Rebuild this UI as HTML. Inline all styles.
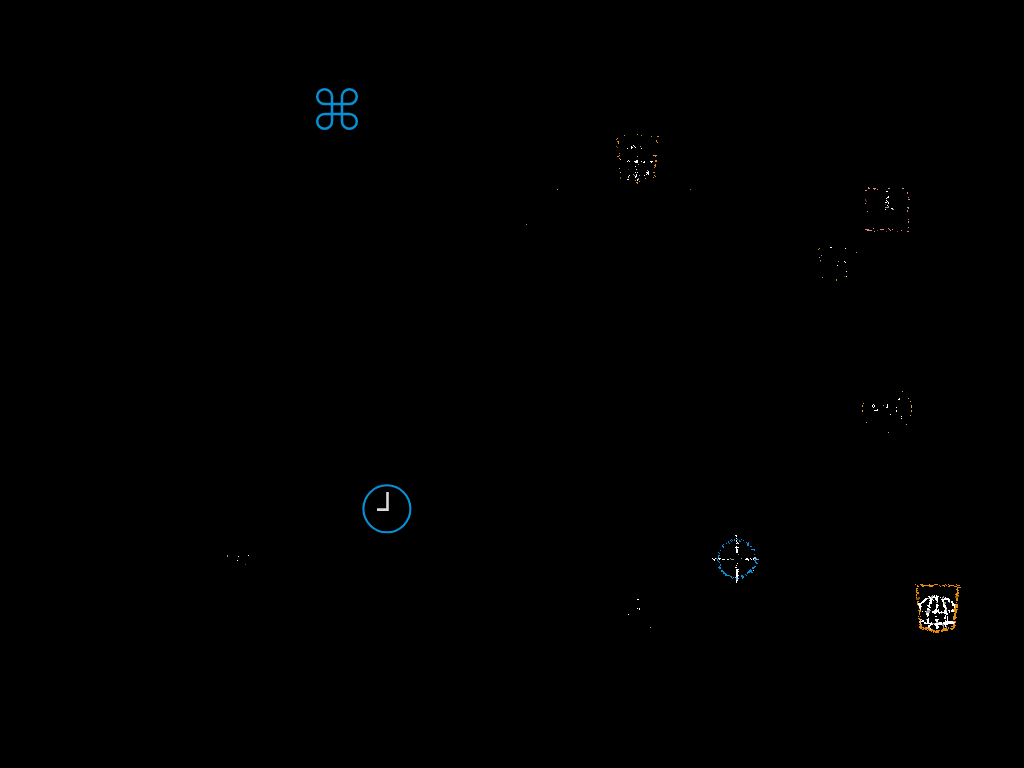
<!DOCTYPE html>
<html><head><meta charset="utf-8"><style>
html,body{margin:0;padding:0;background:#000;width:1024px;height:768px;overflow:hidden}
svg{position:absolute;left:0;top:0}
</style></head><body>
<svg width="1024" height="768" viewBox="0 0 1024 768" shape-rendering="crispEdges">
<g shape-rendering="geometricPrecision">
<path d="M332 96.6V121.4M342 96.6V121.4M324.6 104H349.4M324.6 114H349.4M332 96.6A7.4 7.4 0 1 0 324.6 104M342 96.6A7.4 7.4 0 1 1 349.4 104M349.4 114A7.4 7.4 0 1 1 342 121.4M324.6 114A7.4 7.4 0 1 0 332 121.4" fill="none" stroke="#0890d6" stroke-width="2.5"/>
<circle cx="386.9" cy="508.8" r="23.5" fill="none" stroke="#0890d6" stroke-width="2.1"/>
<path d="M386.2 492H388.8V511H377V508.2H386.2Z" fill="#fff" fill-opacity="0.85"/>

</g>
<path fill="#e38b0e" d="M624 135h1v1h-1zM637 134h1v1h-1zM641 135h1v1h-1zM617 138h1v1h-1zM616 139h1v1h-1zM617 141h1v1h-1zM618 141h1v1h-1zM618 142h1v1h-1zM618 143h1v1h-1zM619 153h1v1h-1zM619 155h1v1h-1zM617 156h1v1h-1zM618 156h1v1h-1zM619 158h1v1h-1zM619 168h1v1h-1zM636 182h1v1h-1zM637 182h1v1h-1zM637 183h1v1h-1zM635 180h1v1h-1zM639 181h1v1h-1zM651 136h1v1h-1zM657 136h1v1h-1zM658 136h1v1h-1zM656 140h1v1h-1zM656 141h1v1h-1zM657 142h1v1h-1zM654 155h1v1h-1zM655 155h1v1h-1zM656 155h1v1h-1zM655 156h1v1h-1zM656 160h1v1h-1zM656 161h1v1h-1zM655 160h1v1h-1zM655 161h1v1h-1zM655 164h1v1h-1zM654 165h1v1h-1zM655 165h1v1h-1zM655 166h1v1h-1zM654 167h1v1h-1zM653 172h1v1h-1zM654 172h1v1h-1zM654 175h1v1h-1zM655 176h1v1h-1zM653 177h1v1h-1zM645 178h1v1h-1zM819 248h1v1h-1zM818 249h1v1h-1zM820 260h1v1h-1zM856 252h1v1h-1zM836 279h1v1h-1zM836 280h1v1h-1zM822 277h1v1h-1zM557 189h1v1h-1zM915 584h1v1h-1zM917 585h1v1h-1zM917 586h2v1h-2zM920 584h3v1h-3zM921 585h3v1h-3zM922 586h2v1h-2zM924 585h3v1h-3zM929 584h1v1h-1zM929 585h3v1h-3zM929 586h3v1h-3zM932 585h2v1h-2zM934 584h2v1h-2zM936 584h1v1h-1zM939 585h1v1h-1zM940 586h1v1h-1zM942 585h3v1h-3zM945 584h1v1h-1zM944 586h1v1h-1zM948 584h1v1h-1zM949 585h3v1h-3zM948 586h2v1h-2zM952 585h2v1h-2zM954 586h1v1h-1zM956 584h1v1h-1zM957 585h3v1h-3zM956 586h1v1h-1zM916 589h1v1h-1zM917 590h1v1h-1zM916 591h1v1h-1zM957 587h2v1h-2zM957 588h1v1h-1zM956 589h2v1h-2zM957 590h2v1h-2zM957 591h1v1h-1zM918 592h1v1h-1zM917 593h2v1h-2zM916 594h1v1h-1zM916 595h1v1h-1zM916 597h1v1h-1zM918 598h1v1h-1zM917 601h2v1h-2zM917 602h1v1h-1zM917 603h1v1h-1zM917 604h2v1h-2zM918 605h1v1h-1zM957 592h2v1h-2zM956 593h3v1h-3zM955 594h3v1h-3zM956 595h3v1h-3zM956 598h2v1h-2zM956 599h2v1h-2zM956 600h2v1h-2zM956 602h1v1h-1zM955 604h3v1h-3zM955 605h3v1h-3zM955 606h3v1h-3zM955 607h3v1h-3zM919 608h1v1h-1zM918 610h3v1h-3zM919 611h2v1h-2zM919 612h1v1h-1zM919 613h1v1h-1zM919 614h1v1h-1zM918 616h1v1h-1zM920 616h1v1h-1zM918 618h2v1h-2zM919 619h1v1h-1zM954 608h2v1h-2zM953 609h5v1h-5zM954 610h3v1h-3zM954 611h3v1h-3zM955 612h2v1h-2zM954 613h2v1h-2zM954 614h2v1h-2zM954 615h2v1h-2zM953 616h3v1h-3zM953 617h4v1h-4zM953 618h3v1h-3zM953 619h2v1h-2zM954 621h2v1h-2zM954 622h2v1h-2zM954 623h1v1h-1zM919 624h2v1h-2zM920 625h2v1h-2zM919 626h3v1h-3zM919 627h5v1h-5zM925 627h3v1h-3zM920 628h2v1h-2zM923 628h7v1h-7zM922 629h2v1h-2zM925 629h2v1h-2zM928 629h2v1h-2zM927 630h1v1h-1zM929 630h1v1h-1zM943 628h3v1h-3zM932 629h1v1h-1zM942 629h4v1h-4zM930 630h5v1h-5zM936 630h4v1h-4zM941 630h5v1h-5zM931 631h1v1h-1zM933 631h6v1h-6zM941 631h2v1h-2zM933 632h1v1h-1zM935 632h4v1h-4zM953 624h2v1h-2zM953 625h3v1h-3zM951 626h4v1h-4zM953 627h2v1h-2zM948 627h1v1h-1zM950 628h4v1h-4zM948 628h1v1h-1zM946 628h1v1h-1zM951 629h2v1h-2zM946 629h2v1h-2zM946 630h2v1h-2zM925 585h4v1h-4zM931 586h2v1h-2zM937 584h1v1h-1zM946 585h1v1h-1zM955 586h1v1h-1zM959 587h2v1h-2zM916 590h1v1h-1zM916 592h2v1h-2zM916 588h2v1h-2z"/>
<path fill="#8a5608" d="M616 146h1v1h-1zM617 147h1v1h-1zM620 177h1v1h-1zM620 178h1v1h-1zM916 596h1v1h-1zM918 597h2v1h-2zM916 598h4v1h-4zM916 599h3v1h-3zM955 596h4v1h-4zM955 597h3v1h-3z"/>
<path fill="#f0c68a" d="M620 159h1v1h-1zM620 172h1v1h-1zM628 176h1v1h-1zM628 177h1v1h-1zM653 155h1v1h-1zM955 604h1v1h-1zM920 619h2v1h-2zM920 620h1v1h-1zM919 621h3v1h-3zM919 622h2v1h-2zM920 623h1v1h-1zM928 627h2v1h-2zM930 629h2v1h-2z"/>
<path fill="#ffffff" d="M627 148h1v1h-1zM631 146h1v1h-1zM631 147h1v1h-1zM631 148h1v1h-1zM632 147h1v1h-1zM633 145h1v1h-1zM634 146h1v1h-1zM635 147h1v1h-1zM641 148h1v1h-1zM627 161h1v1h-1zM628 160h1v1h-1zM629 161h1v1h-1zM634 161h1v1h-1zM635 161h1v1h-1zM636 160h1v1h-1zM637 160h1v1h-1zM636 161h1v1h-1zM637 161h1v1h-1zM636 162h1v1h-1zM635 162h1v1h-1zM637 162h1v1h-1zM641 161h1v1h-1zM643 162h1v1h-1zM644 161h1v1h-1zM644 162h1v1h-1zM650 161h1v1h-1zM651 161h1v1h-1zM652 161h1v1h-1zM651 162h1v1h-1zM635 166h1v1h-1zM636 169h1v1h-1zM635 172h1v1h-1zM637 172h1v1h-1zM629 175h1v1h-1zM636 174h1v1h-1zM636 175h1v1h-1zM636 176h1v1h-1zM635 176h1v1h-1zM635 177h1v1h-1zM627 179h1v1h-1zM628 179h1v1h-1zM637 180h1v1h-1zM637 179h1v1h-1zM644 175h1v1h-1zM648 171h1v1h-1zM646 172h1v1h-1zM647 172h1v1h-1zM648 172h1v1h-1zM647 173h1v1h-1zM648 173h1v1h-1zM646 174h1v1h-1zM648 174h1v1h-1zM886 191h1v1h-1zM887 191h1v1h-1zM886 198h1v1h-1zM887 197h1v1h-1zM888 196h1v1h-1zM886 200h1v1h-1zM885 202h1v1h-1zM886 202h1v1h-1zM887 201h1v1h-1zM888 202h1v1h-1zM888 203h1v1h-1zM887 205h1v1h-1zM885 209h1v1h-1zM891 208h1v1h-1zM892 208h1v1h-1zM888 197h1v1h-1zM845 248h1v1h-1zM830 247h1v1h-1zM831 247h1v1h-1zM837 265h1v1h-1zM844 261h1v1h-1zM845 262h1v1h-1zM846 271h1v1h-1zM846 276h1v1h-1zM872 405h1v1h-1zM873 404h1v1h-1zM874 405h1v1h-1zM872 406h1v1h-1zM874 406h1v1h-1zM873 407h1v1h-1zM874 410h1v1h-1zM875 410h1v1h-1zM876 410h1v1h-1zM877 409h1v1h-1zM877 410h1v1h-1zM887 404h1v1h-1zM887 405h1v1h-1zM887 406h1v1h-1zM886 407h1v1h-1zM887 407h1v1h-1zM899 398h1v1h-1zM898 399h1v1h-1zM899 399h1v1h-1zM896 407h1v1h-1zM896 410h1v1h-1zM896 411h1v1h-1zM890 414h1v1h-1zM901 416h1v1h-1zM901 418h1v1h-1zM238 556h1v1h-1zM237 560h1v1h-1zM248 555h1v1h-1zM637 599h1v1h-1zM638 599h1v1h-1zM637 608h1v1h-1zM639 608h1v1h-1zM639 609h1v1h-1zM628 614h1v1h-1zM735 535h1v1h-1zM736 535h1v1h-1zM736 536h1v1h-1zM736 538h1v1h-1zM736 540h1v1h-1zM736 541h1v1h-1zM737 542h1v1h-1zM736 543h1v1h-1zM738 543h1v1h-1zM735 547h1v1h-1zM736 547h1v1h-1zM737 547h1v1h-1zM738 547h1v1h-1zM736 546h1v1h-1zM736 548h1v1h-1zM736 549h1v1h-1zM737 549h1v1h-1zM736 550h1v1h-1zM737 550h1v1h-1zM736 551h1v1h-1zM737 551h1v1h-1zM736 552h1v1h-1zM737 552h1v1h-1zM712 558h1v1h-1zM713 559h1v1h-1zM714 559h1v1h-1zM715 558h1v1h-1zM714 560h1v1h-1zM718 558h1v1h-1zM719 558h1v1h-1zM720 558h1v1h-1zM719 559h1v1h-1zM722 559h1v1h-1zM723 559h1v1h-1zM724 559h1v1h-1zM727 559h1v1h-1zM728 559h1v1h-1zM745 559h1v1h-1zM746 558h1v1h-1zM747 558h1v1h-1zM748 559h1v1h-1zM746 559h1v1h-1zM747 559h1v1h-1zM748 560h1v1h-1zM750 558h1v1h-1zM751 559h1v1h-1zM753 558h1v1h-1zM754 557h1v1h-1zM753 559h1v1h-1zM737 563h1v1h-1zM736 565h1v1h-1zM735 567h1v1h-1zM736 567h1v1h-1zM738 569h1v1h-1zM736 570h1v1h-1zM737 570h1v1h-1zM736 571h1v1h-1zM737 572h1v1h-1zM736 573h1v1h-1zM737 573h1v1h-1zM736 574h1v1h-1zM737 575h1v1h-1zM736 576h1v1h-1zM737 576h1v1h-1zM735 577h1v1h-1zM738 578h1v1h-1zM736 581h1v1h-1zM736 582h1v1h-1zM736 569h1v1h-1zM737 569h1v1h-1zM738 569h1v1h-1zM736 570h1v1h-1zM737 570h1v1h-1zM736 571h1v1h-1zM737 571h1v1h-1zM736 572h1v1h-1zM737 572h1v1h-1zM736 573h1v1h-1zM737 573h1v1h-1zM736 574h1v1h-1zM737 574h1v1h-1zM736 575h1v1h-1zM737 575h1v1h-1zM736 576h1v1h-1zM737 576h1v1h-1zM738 571h1v1h-1zM738 575h1v1h-1zM736 580h1v1h-1zM736 581h1v1h-1zM736 582h1v1h-1zM737 580h1v1h-1zM928 596h2v1h-2zM929 597h1v1h-1zM925 598h3v1h-3zM924 599h3v1h-3zM923 600h3v1h-3zM929 600h1v1h-1zM922 601h3v1h-3zM921 602h3v1h-3zM929 602h1v1h-1zM918 603h4v1h-4zM929 603h1v1h-1zM918 604h3v1h-3zM929 604h1v1h-1zM919 605h2v1h-2zM927 605h3v1h-3zM919 606h3v1h-3zM928 606h2v1h-2zM919 607h2v1h-2zM929 607h1v1h-1zM934 595h1v1h-1zM936 595h1v1h-1zM933 596h2v1h-2zM936 596h3v1h-3zM930 597h1v1h-1zM932 597h6v1h-6zM940 597h1v1h-1zM945 597h1v1h-1zM930 598h2v1h-2zM935 598h3v1h-3zM944 598h2v1h-2zM930 599h3v1h-3zM935 599h3v1h-3zM941 599h5v1h-5zM930 600h2v1h-2zM933 600h1v1h-1zM936 600h2v1h-2zM942 600h2v1h-2zM930 601h2v1h-2zM937 601h1v1h-1zM942 601h2v1h-2zM930 602h2v1h-2zM943 602h1v1h-1zM930 603h2v1h-2zM943 603h1v1h-1zM936 604h2v1h-2zM943 604h2v1h-2zM936 605h3v1h-3zM943 605h3v1h-3zM936 606h2v1h-2zM943 606h3v1h-3zM930 607h1v1h-1zM936 607h2v1h-2zM944 607h2v1h-2zM946 598h3v1h-3zM946 599h4v1h-4zM948 600h2v1h-2zM948 601h2v1h-2zM951 601h2v1h-2zM951 602h2v1h-2zM952 603h2v1h-2zM952 604h3v1h-3zM952 605h3v1h-3zM954 606h1v1h-1zM954 607h1v1h-1zM920 608h1v1h-1zM920 609h1v1h-1zM927 608h2v1h-2zM927 609h3v1h-3zM922 611h1v1h-1zM925 611h1v1h-1zM926 613h3v1h-3zM926 614h3v1h-3zM927 615h2v1h-2zM927 616h1v1h-1zM928 618h1v1h-1zM927 619h2v1h-2zM927 620h2v1h-2zM922 620h2v1h-2zM921 621h3v1h-3zM927 621h2v1h-2zM924 622h2v1h-2zM927 622h2v1h-2zM924 623h6v1h-6zM936 608h1v1h-1zM945 608h1v1h-1zM935 609h2v1h-2zM938 609h1v1h-1zM945 609h1v1h-1zM934 610h5v1h-5zM944 610h2v1h-2zM932 611h7v1h-7zM941 611h1v1h-1zM944 611h2v1h-2zM932 612h5v1h-5zM938 612h8v1h-8zM934 613h2v1h-2zM939 613h1v1h-1zM944 613h2v1h-2zM945 615h1v1h-1zM935 616h2v1h-2zM945 616h1v1h-1zM944 617h2v1h-2zM944 618h2v1h-2zM935 619h4v1h-4zM935 620h3v1h-3zM945 620h1v1h-1zM936 621h2v1h-2zM945 621h1v1h-1zM931 622h1v1h-1zM939 622h3v1h-3zM943 622h3v1h-3zM930 623h2v1h-2zM935 623h7v1h-7zM943 623h3v1h-3zM946 608h1v1h-1zM946 611h1v1h-1zM946 612h1v1h-1zM946 613h2v1h-2zM946 614h2v1h-2zM947 616h1v1h-1zM947 617h1v1h-1zM947 618h1v1h-1zM947 619h1v1h-1zM947 620h1v1h-1zM952 609h1v1h-1zM948 610h2v1h-2zM951 610h3v1h-3zM949 611h1v1h-1zM951 611h3v1h-3zM949 612h1v1h-1zM946 621h7v1h-7zM946 622h9v1h-9zM946 623h8v1h-8zM928 625h2v1h-2zM928 626h2v1h-2zM930 624h3v1h-3zM934 624h8v1h-8zM944 624h2v1h-2zM930 625h1v1h-1zM935 625h3v1h-3zM945 625h1v1h-1zM936 626h3v1h-3zM945 626h1v1h-1zM936 627h3v1h-3zM930 628h1v1h-1zM936 628h2v1h-2zM946 624h2v1h-2z"/>
<path fill="#9a9a9a" d="M640 146h1v1h-1zM637 156h1v1h-1zM633 174h1v1h-1zM634 175h1v1h-1zM639 175h1v1h-1zM638 178h1v1h-1zM638 179h1v1h-1zM647 170h1v1h-1zM638 164h1v1h-1zM885 207h1v1h-1zM886 207h1v1h-1zM887 207h1v1h-1zM888 207h1v1h-1zM888 206h1v1h-1zM893 209h1v1h-1zM892 209h1v1h-1zM907 207h1v1h-1zM908 207h1v1h-1zM908 208h1v1h-1zM821 255h1v1h-1zM819 257h1v1h-1zM838 261h1v1h-1zM883 405h1v1h-1zM227 555h1v1h-1zM227 556h1v1h-1zM650 627h1v1h-1zM526 224h1v1h-1zM738 554h1v1h-1zM730 558h1v1h-1zM731 559h1v1h-1zM732 559h1v1h-1zM733 559h1v1h-1zM741 558h1v1h-1zM757 559h1v1h-1zM758 559h1v1h-1zM737 543h1v1h-1zM928 598h2v1h-2zM932 595h1v1h-1zM931 596h2v1h-2zM943 596h1v1h-1zM931 597h1v1h-1zM942 597h2v1h-2zM932 598h1v1h-1zM942 598h1v1h-1zM936 602h2v1h-2zM944 602h2v1h-2zM944 603h2v1h-2zM949 602h1v1h-1zM946 607h1v1h-1zM927 610h3v1h-3zM926 611h4v1h-4zM926 612h4v1h-4zM926 619h1v1h-1zM930 610h1v1h-1zM941 613h1v1h-1zM936 622h3v1h-3zM932 623h3v1h-3zM942 623h1v1h-1zM946 609h1v1h-1zM946 610h1v1h-1zM953 621h1v1h-1zM921 624h1v1h-1zM942 624h2v1h-2zM942 625h2v1h-2zM943 626h1v1h-1zM943 627h1v1h-1zM946 626h1v1h-1zM946 627h1v1h-1z"/>
<path fill="#4a4a4a" d="M628 169h1v1h-1zM885 204h1v1h-1zM820 261h1v1h-1zM844 276h1v1h-1zM245 564h1v1h-1z"/>
<path fill="#e08582" d="M868 187h1v1h-1zM868 188h1v1h-1zM869 188h1v1h-1zM873 188h1v1h-1zM874 188h1v1h-1zM875 188h1v1h-1zM874 189h1v1h-1zM877 189h1v1h-1zM865 190h1v1h-1zM866 190h1v1h-1zM888 188h1v1h-1zM889 188h1v1h-1zM865 203h1v1h-1zM867 211h1v1h-1zM902 188h1v1h-1zM903 188h1v1h-1zM907 192h1v1h-1zM907 193h1v1h-1zM908 197h1v1h-1zM908 199h1v1h-1zM909 199h1v1h-1zM907 210h1v1h-1zM907 211h1v1h-1zM865 229h1v1h-1zM866 229h1v1h-1zM867 229h1v1h-1zM868 229h1v1h-1zM867 230h1v1h-1zM868 230h1v1h-1zM869 230h1v1h-1zM870 230h1v1h-1zM871 230h1v1h-1zM873 228h1v1h-1zM874 231h1v1h-1zM880 229h1v1h-1zM881 229h1v1h-1zM882 229h1v1h-1zM883 229h1v1h-1zM888 228h1v1h-1zM889 229h1v1h-1zM890 230h1v1h-1zM908 219h1v1h-1zM908 221h1v1h-1zM908 222h1v1h-1zM908 227h1v1h-1zM907 231h1v1h-1zM908 231h1v1h-1zM892 229h1v1h-1zM901 230h1v1h-1z"/>
<path fill="#7a4644" d="M865 199h1v1h-1zM865 200h1v1h-1zM866 201h1v1h-1zM877 230h1v1h-1zM886 231h1v1h-1zM897 231h1v1h-1z"/>
<path fill="#d9a83a" d="M902 391h1v1h-1zM908 398h1v1h-1zM910 401h1v1h-1zM911 405h1v1h-1zM911 406h1v1h-1zM911 407h1v1h-1zM911 410h1v1h-1zM911 411h1v1h-1zM910 415h1v1h-1zM906 424h1v1h-1zM888 432h1v1h-1zM866 422h1v1h-1zM862 410h1v1h-1zM862 411h1v1h-1zM862 405h1v1h-1zM862 406h1v1h-1zM863 403h1v1h-1z"/>
<path fill="#0890d6" d="M690 189h1v1h-1zM722 545h1v1h-1zM722 546h1v1h-1zM723 544h1v1h-1zM723 546h1v1h-1zM723 547h1v1h-1zM726 543h1v1h-1zM728 541h1v1h-1zM728 542h1v1h-1zM729 543h1v1h-1zM730 540h1v1h-1zM731 539h1v1h-1zM732 540h1v1h-1zM731 541h1v1h-1zM734 539h1v1h-1zM734 540h1v1h-1zM720 550h1v1h-1zM718 552h1v1h-1zM719 553h1v1h-1zM718 555h1v1h-1zM718 556h1v1h-1zM719 555h1v1h-1zM716 558h1v1h-1zM717 559h1v1h-1zM717 560h1v1h-1zM718 561h1v1h-1zM718 557h1v1h-1zM719 562h1v1h-1zM720 564h1v1h-1zM720 565h1v1h-1zM719 566h1v1h-1zM718 567h1v1h-1zM719 567h1v1h-1zM720 567h1v1h-1zM721 570h1v1h-1zM722 570h1v1h-1zM722 571h1v1h-1zM723 571h1v1h-1zM723 572h1v1h-1zM724 572h1v1h-1zM724 573h1v1h-1zM725 573h1v1h-1zM725 574h1v1h-1zM726 574h1v1h-1zM726 575h1v1h-1zM729 575h1v1h-1zM730 576h1v1h-1zM731 577h1v1h-1zM732 578h1v1h-1zM733 577h1v1h-1zM731 576h1v1h-1zM737 539h1v1h-1zM739 540h1v1h-1zM739 541h1v1h-1zM740 541h1v1h-1zM741 539h1v1h-1zM743 540h1v1h-1zM746 542h1v1h-1zM747 543h1v1h-1zM748 543h1v1h-1zM747 544h1v1h-1zM748 544h1v1h-1zM747 545h1v1h-1zM748 545h1v1h-1zM748 542h1v1h-1zM750 546h1v1h-1zM751 546h1v1h-1zM751 549h1v1h-1zM752 549h1v1h-1zM753 549h1v1h-1zM754 549h1v1h-1zM754 550h1v1h-1zM754 554h1v1h-1zM755 558h1v1h-1zM756 558h1v1h-1zM755 559h1v1h-1zM754 560h1v1h-1zM755 560h1v1h-1zM755 561h1v1h-1zM756 562h1v1h-1zM756 563h1v1h-1zM755 562h1v1h-1zM757 563h1v1h-1zM741 575h1v1h-1zM742 575h1v1h-1zM742 576h1v1h-1zM742 577h1v1h-1zM743 576h1v1h-1zM745 574h1v1h-1zM746 575h1v1h-1zM747 573h1v1h-1zM748 572h1v1h-1zM749 571h1v1h-1zM750 570h1v1h-1zM751 572h1v1h-1zM750 571h1v1h-1zM752 568h1v1h-1zM753 567h1v1h-1zM754 566h1v1h-1zM755 566h1v1h-1zM754 567h1v1h-1zM741 576h1v1h-1zM743 577h1v1h-1zM742 578h1v1h-1zM747 572h1v1h-1zM748 571h1v1h-1zM749 570h1v1h-1zM750 569h1v1h-1zM749 572h1v1h-1zM751 571h1v1h-1zM752 572h1v1h-1zM751 570h1v1h-1zM752 567h1v1h-1zM753 568h1v1h-1zM719 568h1v1h-1zM720 568h1v1h-1zM721 571h1v1h-1zM723 573h1v1h-1zM725 575h1v1h-1zM727 575h1v1h-1zM728 575h1v1h-1z"/>
<path fill="#8cccf0" d="M736 577h1v1h-1zM737 578h1v1h-1zM754 558h1v1h-1zM753 570h1v1h-1zM735 577h1v1h-1zM736 577h1v1h-1zM737 577h1v1h-1zM736 578h1v1h-1zM737 578h1v1h-1zM738 578h1v1h-1zM736 579h1v1h-1zM737 579h1v1h-1zM754 557h1v1h-1zM755 557h1v1h-1zM755 558h1v1h-1zM756 559h1v1h-1z"/>
</svg>
</body></html>
